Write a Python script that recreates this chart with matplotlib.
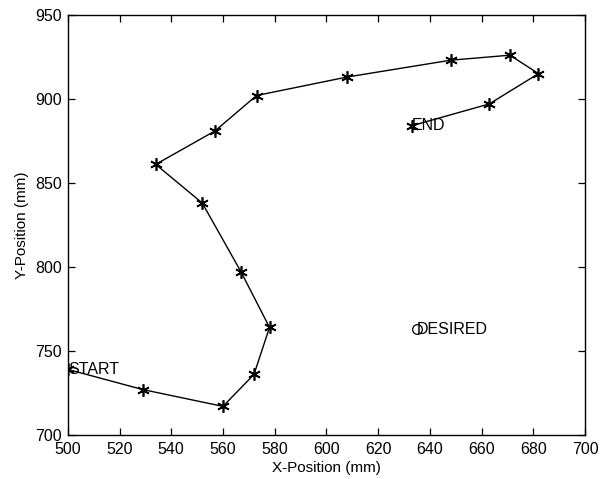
import matplotlib
matplotlib.use("Agg")
import matplotlib.pyplot as plt

x_pos = [500, 529, 560, 572, 578, 567, 552, 534, 557, 573, 608, 648, 671, 682, 663, 633]
y_pos = [739, 727, 717, 736, 764, 797, 838, 861, 881, 902, 913, 923, 926, 915, 897, 884]
start_label = "START"
end_label = "END"
desired_x = 635
desired_y = 763
desired_label = "DESIRED"
x_ticks = [500, 520, 540, 560, 580, 600, 620, 640, 660, 680, 700]
y_ticks = [700, 750, 800, 850, 900, 950]

plt.rcParams['font.family'] = ['Liberation Sans', 'DejaVu Sans']
fig = plt.figure(figsize=(6.0, 4.79), dpi=100)
ax = fig.add_axes([0.113, 0.092, 0.862, 0.877])

ax.plot(x_pos, y_pos, color='black', linewidth=1.0, marker=(6, 2, 0), markersize=9,
        markeredgewidth=1.2, markerfacecolor='black', markeredgecolor='black')
ax.plot([desired_x], [desired_y], linestyle='none', marker='o', markersize=7,
        markerfacecolor='none', markeredgecolor='black', markeredgewidth=0.9)

ax.text(x_pos[0], y_pos[0], start_label, ha='left', va='center', fontsize=11.5)
ax.text(x_pos[-1], y_pos[-1], end_label, ha='left', va='center', fontsize=11.5)
ax.text(desired_x, desired_y, desired_label, ha='left', va='center', fontsize=11.5)

ax.set_xlim(500, 700)
ax.set_ylim(700, 950)
ax.set_xticks(x_ticks)
ax.set_yticks(y_ticks)
ax.tick_params(direction='in', length=5, top=True, right=True, labelsize=11.5, width=0.9)
ax.tick_params(axis='x', pad=5)
ax.tick_params(axis='y', pad=4)
for s in ax.spines.values():
    s.set_linewidth(1.0)
ax.set_xlabel('X-Position (mm)', fontsize=11, labelpad=3)
ax.set_ylabel('Y-Position (mm)', fontsize=11, labelpad=5)

fig.savefig('out.png', dpi=100)
